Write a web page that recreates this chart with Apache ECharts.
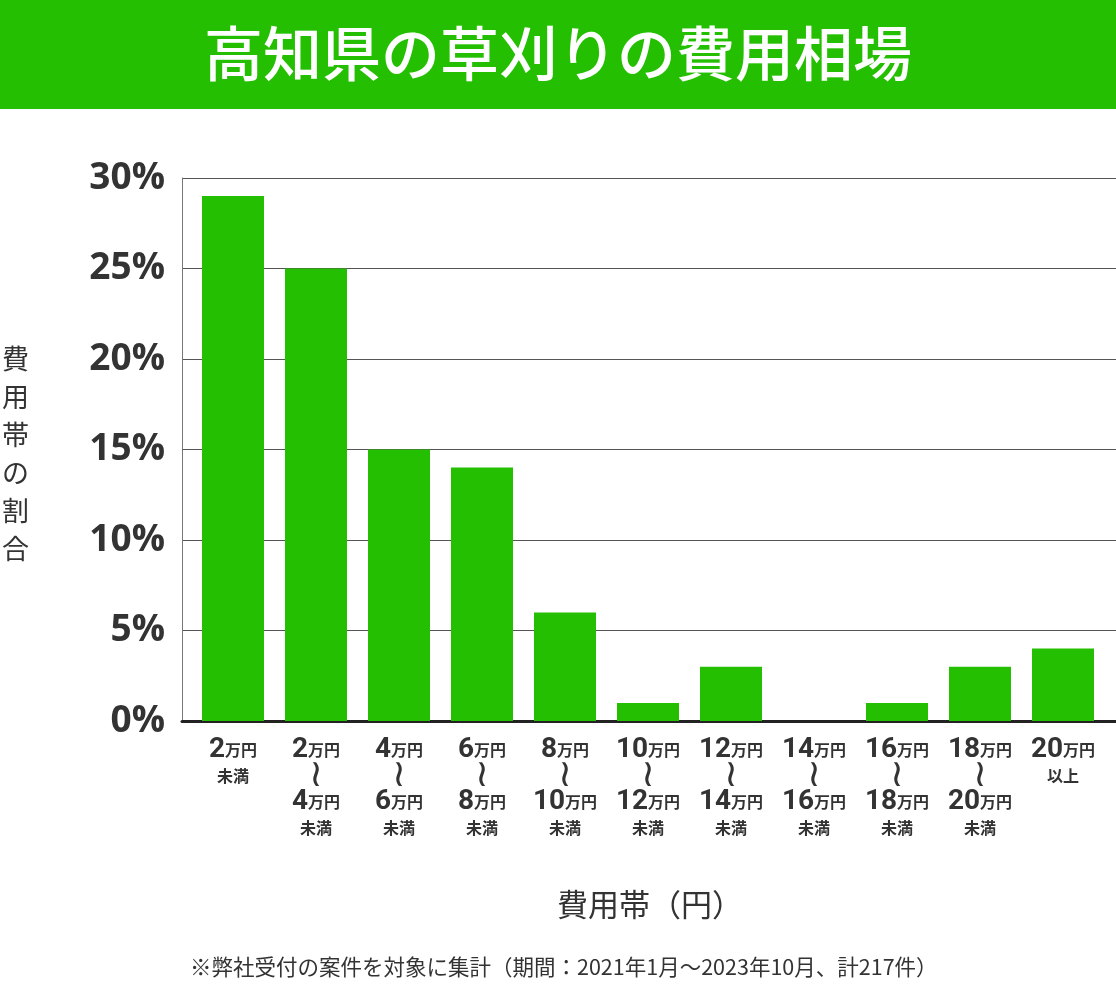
<!DOCTYPE html>
<html>
<head>
<meta charset="utf-8">
<script src="https://cdn.jsdelivr.net/npm/echarts@6/dist/echarts.min.js"></script>
<style>
  html, body { margin: 0; padding: 0; background: #fff; }
  #chart { width: 1116px; height: 989px; }
</style>
</head>
<body>
<div id="chart"></div>
<script>
const categories = [
  ['2', null, '未満'],
  ['2', '4', '未満'],
  ['4', '6', '未満'],
  ['6', '8', '未満'],
  ['8', '10', '未満'],
  ['10', '12', '未満'],
  ['12', '14', '未満'],
  ['14', '16', '未満'],
  ['16', '18', '未満'],
  ['18', '20', '未満'],
  ['20', null, '以上']
]
const shares = [29, 25, 15, 14, 6, 1, 3, 0, 1, 3, 4]
const yTicks = [0, 5, 10, 15, 20, 25, 30]

const titleText = '高知県の草刈りの費用相場'
const yName = '費用帯の割合'
const xName = '費用帯（円）'
const note = '※弊社受付の案件を対象に集計（期間：2021年1月～2023年10月、計217件）'

const font = '"Noto Sans CJK JP", "Noto Sans", sans-serif'
const green = '#24bf00'

const labelKeys = categories.map((c, i) => 'c' + i)
const labelText = (key) => {
  const c = categories[labelKeys.indexOf(key)]
  if (c[1] === null) return '{n|' + c[0] + '}{u|万円}\n{u|' + c[2] + '}'
  return '{n|' + c[0] + '}{u|万円}\n{t|≀}\n{n|' + c[1] + '}{u|万円}\n{u|' + c[2] + '}'
}

const chart = echarts.init(document.getElementById('chart'))
chart.setOption({
  backgroundColor: '#fff',
  animation: false,
  textStyle: { fontFamily: font },
  grid: [
    { left: 182, right: 0, top: 178, bottom: 268 },
    { left: 191.5, right: 11.5, top: 178, bottom: 268 }
  ],
  xAxis: [
    {
      gridIndex: 0, type: 'category', data: labelKeys,
      axisLine: { lineStyle: { color: '#222', width: 3 } },
      axisTick: { show: false }, axisLabel: { show: false }
    },
    {
      gridIndex: 1, type: 'category', data: labelKeys,
      axisLine: { show: false }, axisTick: { show: false },
      axisLabel: {
        margin: 16,
        interval: 0,
        formatter: labelText,
        rich: {
          n: { fontSize: 28, fontWeight: 'bold', color: '#333', lineHeight: 26, fontFamily: '"Roboto", sans-serif' },
          u: { fontSize: 16, fontWeight: 'bold', color: '#333', lineHeight: 26, fontFamily: font },
          t: { fontSize: 38, color: '#333', lineHeight: 26, fontFamily: '"DejaVu Sans", sans-serif' }
        }
      }
    }
  ],
  yAxis: [
    {
      gridIndex: 0, type: 'value', min: 0, max: 30, interval: 5,
      axisLine: { show: true, lineStyle: { color: '#777', width: 1 } },
      axisTick: { show: false },
      splitLine: { lineStyle: { color: '#555', width: 1 } },
      axisLabel: {
        margin: 17,
        formatter: (v) => yTicks.includes(v) ? v + '%' : '',
        fontSize: 37, fontWeight: 'bold', color: '#333', fontFamily: '"Open Sans", sans-serif'
      }
    },
    {
      gridIndex: 1, type: 'value', min: 0, max: 30, interval: 5,
      show: false
    }
  ],
  series: [
    {
      type: 'bar',
      xAxisIndex: 1, yAxisIndex: 1,
      data: shares,
      barWidth: 62,
      itemStyle: { color: green }
    }
  ],
  graphic: [
    {
      type: 'rect', left: 0, top: 0, z: -1,
      shape: { width: 1116, height: 109 },
      style: { fill: green }
    },
    {
      type: 'text', left: 'center', top: 24,
      style: { text: titleText, fill: '#fff', font: '500 59px ' + font }
    },
    {
      type: 'text', left: 2, top: 340,
      style: { text: yName.split('').join('\n'), fill: '#333', font: '27px ' + font, lineHeight: 38 }
    },
    {
      type: 'text', left: 557, top: 889,
      style: { text: xName, fill: '#333', font: '31px ' + font }
    },
    {
      type: 'text', left: 190, top: 956,
      style: { text: note, fill: '#333', font: '21.5px ' + font }
    }
  ]
})
</script>
</body>
</html>
